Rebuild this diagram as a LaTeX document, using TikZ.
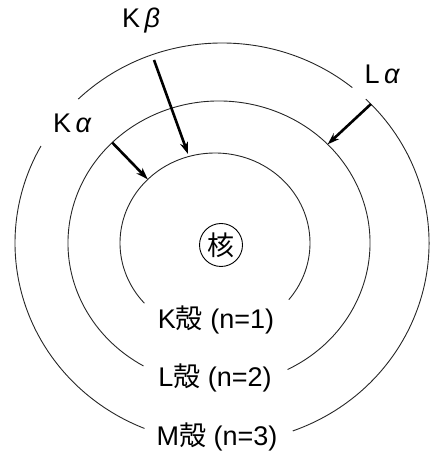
\documentclass[tikz,border=0pt]{standalone}
\usepackage{fontspec}
\setmainfont{Liberation Sans}
\newfontfamily\cjk{Noto Sans CJK JP}
\usepackage{tikz}
\usetikzlibrary{arrows.meta}

\begin{document}
\begin{tikzpicture}[x=1pt,y=1pt,
		shell/.style={line width=0.9pt, black!85},
		jump/.style={line width=2.6pt, -{Stealth[length=12pt,width=8pt]}},
		lbl/.style={font=\fontsize{27}{32}\selectfont, inner sep=0pt}]
		\useasboundingbox (0,0) rectangle (430,454);
		
		% nucleus
		\node[lbl, draw, circle, minimum size=43pt, line width=0.9pt] (core) at (221,209) {\cjk 核};
		
		% K shell and L shell (open at the bottom for the labels)
		\draw[shell] ([shift={(-39:95pt and 90pt)}]215,211) arc[start angle=-39, end angle=222, x radius=95pt, y radius=90pt];
		\draw[shell] ([shift={(-63:151pt and 142pt)}]219,211) arc[start angle=-63, end angle=240, x radius=151pt, y radius=142pt];
		
		% M shell, broken where the labels sit
		\foreach \a/\b in {-70/46, 51/134, 151/248}{
			\draw[shell] ([shift={(\a:207pt and 200pt)}]222,211) arc[start angle=\a, end angle=\b, x radius=207pt, y radius=200pt];
		}
		
		% shell names
		\node[lbl] (kshell) at (216,134) {K{\cjk 殻} (n=1)};
		\node[lbl] (lshell) at (215,76) {L{\cjk 殻} (n=2)};
		\node[lbl] (mshell) at (217,17) {M{\cjk 殻} (n=3)};
		
		% transitions
		\coordinate (ka-tail) at ([shift={(135:151pt and 142pt)}]219,211);
		\coordinate (ka-head) at ([shift={(135:95pt and 90pt)}]215,211);
		\coordinate (kb-tail) at (154,394);
		\coordinate (kb-head) at (188,300);
		\coordinate (la-tail) at ([shift={(44:207pt and 200pt)}]222,211);
		\coordinate (la-head) at ([shift={(44:151pt and 142pt)}]219,211);
		\draw[jump] (ka-tail) -- (ka-head);
		\draw[jump] (kb-tail) -- (kb-head);
		\draw[jump] (la-tail) -- (la-head);
		
		\node[lbl] (ka) at (72,331) {K\,{\itshape α}};
		\node[lbl] (kb) at (141,433) {K\,{\itshape β}};
		\node[lbl] (la) at (382,380) {L\,{\itshape α}};
		
	\end{tikzpicture}
\end{document}
